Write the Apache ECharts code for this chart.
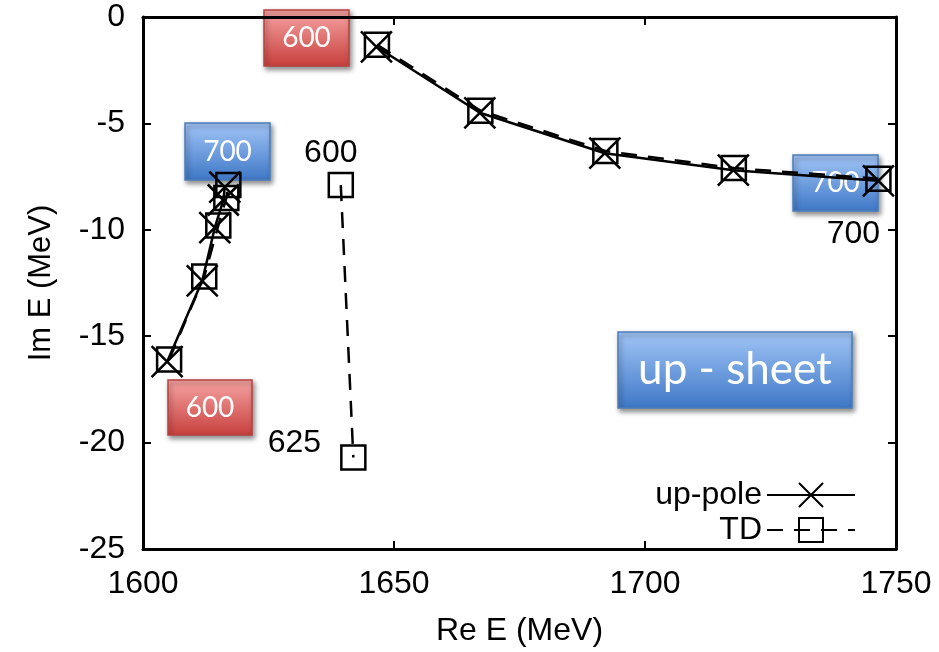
<!DOCTYPE html>
<html>
<head>
<meta charset="utf-8">
<script src="https://cdn.jsdelivr.net/npm/echarts@6/dist/echarts.min.js"></script>
<style>
  html, body { margin: 0; padding: 0; background: #fff; }
  #chart { width: 939px; height: 652px; }
</style>
</head>
<body>
<div id="chart"></div>
<script>
// Pole trajectories on the "up" sheet; numbers 600 / 625 / 700 are cutoff values (MeV)
const xTicks = [1600, 1650, 1700, 1750];
const yTicks = [-25, -20, -15, -10, -5, 0];

// up-pole, low branch and high branch
const upLowRe  = [1604.8, 1611.8, 1614.3, 1616.0, 1616.3];
const upLowIm  = [-16.2, -12.4, -9.9, -8.6, -8.0];
const upHighRe = [1646.5, 1667.1, 1692.0, 1717.6, 1746.5];
const upHighIm = [-1.4, -4.5, -6.4, -7.2, -7.7];

// TD, same branches plus the separate short trajectory
const tdLowRe   = [1605.2, 1612.2, 1615.0, 1616.6, 1617.0];
const tdLowIm   = [-16.1, -12.2, -9.8, -8.5, -7.9];
const tdHighRe  = [1646.6, 1667.2, 1692.1, 1717.7, 1746.5];
const tdHighIm  = [-1.3, -4.4, -6.3, -7.1, -7.6];
const tdExtraRe = [1639.4, 1641.9];
const tdExtraIm = [-7.9, -20.7];

const cutoffText = { start: '600', mid: '625', end: '700' };

const zip = (re, im) => re.map((v, i) => [v, im[i]]);

const FONT = 'Liberation Sans, Arial, Helvetica, sans-serif';
const BOX_FONT = 'Lato, "Open Sans", sans-serif';
const CROSS = 'path://M0,0L10,10M10,0L0,10';

const crossStyle = {
  symbol: CROSS, symbolSize: 31, showAllSymbol: true,
  itemStyle: { color: 'rgba(0,0,0,0)', borderColor: '#000', borderWidth: 2.5 },
  lineStyle: { color: '#000', width: 2.5, type: 'solid' }
};
const squareStyle = {
  symbol: 'rect', symbolSize: 24, showAllSymbol: true,
  itemStyle: { color: 'rgba(0,0,0,0)', borderColor: '#000', borderWidth: 2.5 },
  lineStyle: { color: '#000', width: 2.5, type: [16, 11] }
};

function series(name, data, style, extra) {
  return Object.assign({
    name: name, type: 'line', data: data, animation: false,
    xAxisIndex: 0, yAxisIndex: 0, z: 3,
    emphasis: { disabled: true }
  }, style, extra || {});
}

const labelFont = { fontFamily: FONT, fontSize: 32, color: '#000' };

const highUp = zip(upHighRe, upHighIm).map((p, i, a) => i === a.length - 1
  ? { value: p, label: Object.assign({ show: true, formatter: cutoffText.end, position: 'bottom', offset: [-25, 16] }, labelFont) }
  : p);

const extraTd = zip(tdExtraRe, tdExtraIm).map((p, i) => ({
  value: p,
  label: Object.assign({
    show: true,
    formatter: i === 0 ? cutoffText.start : cutoffText.mid,
    position: i === 0 ? 'top' : 'left',
    offset: i === 0 ? [-10, 2] : [-14, -14]
  }, labelFont)
}));

// Coloured call-out boxes drawn over the plot
function callout(x, y, w, h, text, top, bottom, border, size) {
  return {
    type: 'group', x: x, y: y, z: 100,
    children: [
      {
        type: 'rect', shape: { width: w, height: h },
        style: {
          fill: new echarts.graphic.LinearGradient(0, 0, 0, 1, [
            { offset: 0, color: top }, { offset: 1, color: bottom }
          ]),
          stroke: border, lineWidth: 1.5,
          shadowBlur: 5, shadowOffsetX: 2, shadowOffsetY: 3, shadowColor: 'rgba(0,0,0,0.45)'
        }
      },
      {
        type: 'text', x: w / 2, y: h / 2,
        style: { text: text, fill: '#fff', font: size + 'px ' + BOX_FONT, align: 'center', verticalAlign: 'middle' }
      }
    ]
  };
}
const RED = ['#f6a5a4', '#c73f3c', '#b8413f'];
const BLUE = ['#a3c6f7', '#3d77c6', '#4a7dbb'];

const plain = v => String(v);

const chart = echarts.init(document.getElementById('chart'), null, { renderer: 'canvas' });
chart.setOption({
  backgroundColor: '#fff',
  animation: false,
  grid: { left: 143, right: 43, top: 17, bottom: 102, containLabel: false },
  xAxis: [
    {
      type: 'value', min: xTicks[0], max: xTicks[xTicks.length - 1], interval: 50,
      name: 'Re E (MeV)', nameLocation: 'middle', nameGap: 66,
      nameTextStyle: { fontFamily: FONT, fontSize: 32, color: '#000' },
      axisLine: { show: true, onZero: false, lineStyle: { color: '#000', width: 3 } },
      axisTick: { show: true, inside: true, length: 8, lineStyle: { color: '#000', width: 2 } },
      axisLabel: { fontFamily: FONT, fontSize: 32, color: '#000', margin: 19, formatter: plain },
      splitLine: { show: false }
    },
    {
      type: 'value', position: 'top', min: xTicks[0], max: xTicks[xTicks.length - 1], interval: 50,
      axisLine: { show: true, onZero: false, lineStyle: { color: '#000', width: 3 } },
      axisTick: { show: true, inside: true, length: 8, lineStyle: { color: '#000', width: 2 } },
      axisLabel: { show: false }, splitLine: { show: false }
    }
  ],
  yAxis: [
    {
      type: 'value', min: yTicks[0], max: yTicks[yTicks.length - 1], interval: 5,
      name: 'Im E (MeV)', nameLocation: 'middle', nameGap: 86, nameRotate: 90,
      nameTextStyle: { fontFamily: FONT, fontSize: 31, color: '#000' },
      axisLine: { show: true, onZero: false, lineStyle: { color: '#000', width: 3 } },
      axisTick: { show: true, inside: true, length: 8, lineStyle: { color: '#000', width: 2 } },
      axisLabel: { fontFamily: FONT, fontSize: 32, color: '#000', margin: 18, formatter: plain },
      splitLine: { show: false }
    },
    {
      type: 'value', position: 'right', min: yTicks[0], max: yTicks[yTicks.length - 1], interval: 5,
      axisLine: { show: true, onZero: false, lineStyle: { color: '#000', width: 3 } },
      axisTick: { show: true, inside: true, length: 8, lineStyle: { color: '#000', width: 2 } },
      axisLabel: { show: false }, splitLine: { show: false }
    }
  ],
  legend: {
    data: ['up-pole', 'TD'],
    orient: 'vertical', align: 'right',
    right: 78, top: 474, itemGap: 3,
    itemWidth: 88, itemHeight: 30,
    textStyle: { fontFamily: FONT, fontSize: 32, color: '#000', padding: [0, 0, 0, 0] },
    selectedMode: false
  },
  series: [
    series('TD', zip(tdLowRe, tdLowIm), squareStyle),
    series('TD', zip(tdHighRe, tdHighIm), squareStyle),
    series('TD', extraTd, squareStyle),
    series('up-pole', zip(upLowRe, upLowIm), crossStyle),
    series('up-pole', highUp, crossStyle)
  ],
  graphic: [
    callout(264, 10, 85, 56, '600', RED[0], RED[1], RED[2], 28),
    callout(168, 380, 84, 55, '600', RED[0], RED[1], RED[2], 28),
    callout(185, 123, 85, 57, '700', BLUE[0], BLUE[1], BLUE[2], 28),
    callout(793, 155, 85, 56, '700', BLUE[0], BLUE[1], BLUE[2], 28),
    callout(618, 332, 234, 76, 'up - sheet', BLUE[0], BLUE[1], BLUE[2], 44)
  ]
});
</script>
</body>
</html>
